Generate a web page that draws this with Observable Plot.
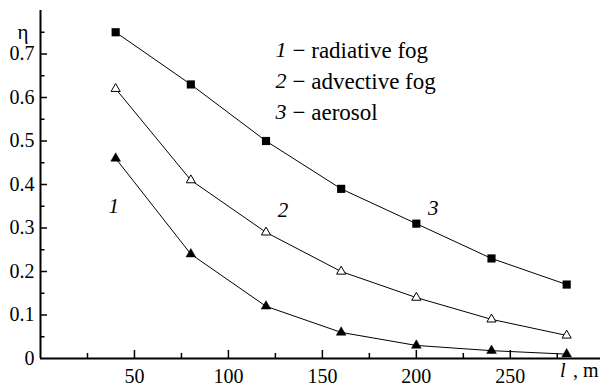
<!DOCTYPE html>
<html><head><meta charset="utf-8">
<script src="https://cdn.jsdelivr.net/npm/d3@7"></script>
<script src="https://cdn.jsdelivr.net/npm/@observablehq/plot@0.6"></script>
<style>
body{margin:0;background:#fff}
#chart svg, #chart svg text { font-family: "Liberation Serif", "DejaVu Serif", serif !important; }
</style>
</head><body><div id="chart"></div>
<script>
const distance = [40, 80, 120, 160, 200, 240, 280];
const radiative = [0.46, 0.24, 0.12, 0.06, 0.03, 0.018, 0.01];
const advective = [0.62, 0.41, 0.29, 0.20, 0.14, 0.09, 0.053];
const aerosol = [0.75, 0.63, 0.50, 0.39, 0.31, 0.23, 0.17];
const seriesNames = ["radiative fog", "advective fog", "aerosol"];
const seriesNumbers = ["1", "2", "3"];
const yMajor = [0.1, 0.2, 0.3, 0.4, 0.5, 0.6, 0.7];
const yMinor = [0.05, 0.15, 0.25, 0.35, 0.45, 0.55, 0.65, 0.75];
const yLabels = [0, 0.1, 0.2, 0.3, 0.4, 0.5, 0.6, 0.7];
const xMajor = [50, 100, 150, 200, 250];
const xMinor = [25, 75, 125, 175, 225, 275];
const curveLabels = [
  {n: "1", x: 39, y: 0.35},
  {n: "2", x: 129, y: 0.34},
  {n: "3", x: 209, y: 0.345}
];

const toRows = (vals, s) => distance.map((d, i) => ({x: d, y: vals[i], s}));
const r1 = toRows(radiative, 1), r2 = toRows(advective, 2), r3 = toRows(aerosol, 3);

const font = "Liberation Serif";
const legend = seriesNames.flatMap((name, i) => [
  Plot.text([seriesNumbers[i]], {text: d => d, frameAnchor: "top-left", dx: 235, dy: 31 + i * 31, textAnchor: "start", fontStyle: "italic", fontSize: 22, fontFamily: font}),
  Plot.text([name], {text: d => "\u2212 " + d, frameAnchor: "top-left", dx: 252, dy: 31 + i * 31, textAnchor: "start", fontSize: 23, fontFamily: font})
]);

const chart = Plot.plot({
  width: 600, height: 387,
  marginLeft: 40, marginRight: 0, marginTop: 10, marginBottom: 29,
  style: {fontFamily: font, fontSize: "20px", color: "black", background: "white"},
  x: {domain: [0, 298]},
  y: {domain: [0, 0.8]},
  marks: [
    Plot.axisY(yLabels, {tickSize: 0, tickPadding: 6, tickFormat: d => d === 0 ? "0" : d.toFixed(1), fontSize: 20, fontFamily: font, label: null}),
    Plot.axisY(yMajor, {tickSize: -7, text: null, strokeWidth: 1.5, label: null}),
    Plot.axisY(yMinor, {tickSize: -4.5, text: null, strokeWidth: 1.5, label: null}),
    Plot.axisX(xMajor, {tickSize: 0, tickPadding: 10, fontSize: 20, fontFamily: font, label: null}),
    Plot.axisX(xMajor, {tickSize: -8, text: null, strokeWidth: 1.5, label: null}),
    Plot.axisX(xMinor, {tickSize: -5, text: null, strokeWidth: 1.5, label: null}),
    Plot.ruleX([0], {strokeWidth: 2}),
    Plot.ruleY([0], {strokeWidth: 2}),
    Plot.line(r1, {x: "x", y: "y", stroke: "black", strokeWidth: 1}),
    Plot.line(r2, {x: "x", y: "y", stroke: "black", strokeWidth: 1}),
    Plot.line(r3, {x: "x", y: "y", stroke: "black", strokeWidth: 1}),
    Plot.dot(r1, {x: "x", y: "y", symbol: "triangle", r: 3.6, fill: "black", stroke: "black", strokeWidth: 0.5}),
    Plot.dot(r2, {x: "x", y: "y", symbol: "triangle", r: 3.4, fill: "white", stroke: "black", strokeWidth: 1}),
    Plot.dot(r3, {x: "x", y: "y", symbol: "square", r: 4.6, fill: "black", stroke: "none"}),
    Plot.text(curveLabels, {x: "x", y: "y", text: "n", fontStyle: "italic", fontSize: 21, fontFamily: font}),
    ...legend,
    Plot.text(["\u03b7"], {frameAnchor: "top-left", dx: -23, dy: 14, fontSize: 21, fontFamily: font}),
    Plot.text(["l"], {frameAnchor: "bottom-right", dx: -35, dy: 18, textAnchor: "end", fontStyle: "italic", fontSize: 20, fontFamily: font}),
    Plot.text([", m"], {frameAnchor: "bottom-right", dx: -2, dy: 18, textAnchor: "end", fontSize: 20, fontFamily: font})
  ]
});
document.getElementById("chart").appendChild(chart);
</script>
</body></html>
